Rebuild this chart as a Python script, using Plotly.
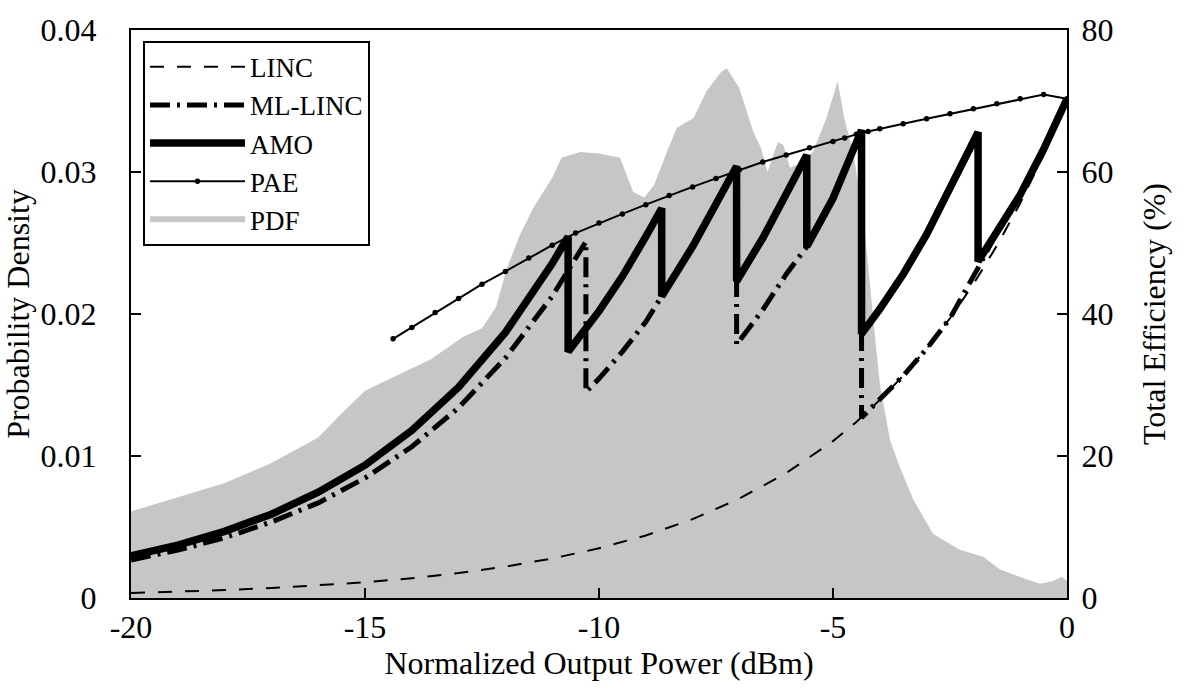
import plotly.graph_objects as go

# ---------------- data ----------------
# PDF (left axis, probability density)
pdf_x = [-20, -19, -18, -17, -16, -15.5, -15, -14.3, -13.6, -12.9, -12.5, -12.2, -11.97,
         -11.7, -11.4, -11.0, -10.8, -10.4, -10.0, -9.55, -9.27, -9.03, -8.82, -8.55, -8.34,
         -7.98, -7.7, -7.4, -7.27, -7.0, -6.7, -6.54, -6.4, -6.18, -6.06, -5.92, -5.7, -5.43,
         -5.14, -4.9, -4.76, -4.57, -4.35, -4.14, -4.0, -3.78, -3.57, -3.28, -2.86, -2.29,
         -1.79, -1.43, -0.94, -0.58, -0.3, -0.11, 0]
pdf_y = [0.0061, 0.0071, 0.0081, 0.0095, 0.0113, 0.0130, 0.0146, 0.0157, 0.0168, 0.0184,
         0.0190, 0.0205, 0.0232, 0.0255, 0.0275, 0.0296, 0.0310, 0.0314, 0.0313, 0.0310,
         0.0286, 0.0282, 0.0291, 0.0314, 0.0331, 0.0338, 0.0357, 0.0370, 0.0373, 0.0359,
         0.0328, 0.0317, 0.0300, 0.0321, 0.0319, 0.0303, 0.0306, 0.0314, 0.0338, 0.0364,
         0.0338, 0.0314, 0.0268, 0.0197, 0.0151, 0.0111, 0.0092, 0.0069, 0.0045, 0.0034,
         0.0029, 0.0020, 0.0014, 0.0010, 0.0012, 0.0015, 0.0012]

# LINC efficiency (%)
linc_x = [-20, -19, -18, -17, -16, -15, -14, -13, -12, -11, -10, -9, -8, -7, -6, -5,
          -4.5, -4, -3.5, -3, -2.5, -2, -1.5, -1, -0.5, 0]
linc_y = [0.70, 0.88, 1.11, 1.40, 1.76, 2.21, 2.79, 3.51, 4.42, 5.56, 7.00, 8.81, 11.1,
          14.0, 17.6, 22.1, 24.8, 27.9, 31.3, 35.1, 39.4, 44.2, 49.6, 55.6, 62.4, 70.0]

# ML-LINC efficiency (%)
ml_x = [-20, -19, -18, -17, -16, -15, -14, -13, -12, -11, -10.28,
        -10.28, -10, -9.5, -9, -8.66,
        -8, -7.5, -7.06,
        -7.06, -6.5, -6, -5.56,
        -5, -4.39,
        -4.39, -4, -3.5, -3, -2.5, -1.9,
        -1.5, -1, -0.5, 0]
ml_y = [5.36, 6.74, 8.49, 10.7, 13.4, 16.9, 21.3, 26.8, 33.8, 42.5, 50.2,
        29.0, 30.9, 34.7, 38.9, 42.5,
        49.5, 55.5, 60.8,
        35.7, 40.6, 45.6, 49.5,
        56.3, 65.9,
        25.4, 27.9, 31.3, 35.1, 39.4, 46.5,
        51.5, 56.8, 63.2, 70.3]

# AMO efficiency (%)
amo_x = [-20, -19, -18, -17, -16, -15, -14, -13, -12, -11, -10.66,
         -10.66, -10, -9.5, -9, -8.66,
         -8.66, -8, -7.5, -7.06,
         -7.06, -6.5, -6, -5.56,
         -5.56, -5, -4.39,
         -4.39, -4, -3.5, -3, -2.5, -1.9,
         -1.9, -1.5, -1, -0.5, 0]
amo_y = [5.93, 7.46, 9.39, 11.8, 14.9, 18.7, 23.6, 29.7, 37.4, 47.1, 50.9,
         34.7, 40.4, 45.3, 50.9, 54.9,
         42.5, 49.5, 55.5, 60.8,
         44.6, 50.7, 56.9, 62.4,
         49.5, 56.3, 65.9,
         37.2, 40.7, 45.6, 51.2, 57.5, 65.6,
         47.4, 51.5, 56.8, 63.2, 70.3]

# PAE (%)
pae_x = [-14.4, -14.0, -13.5, -13.0, -12.5, -12.0, -11.5, -11.0, -10.5, -10.0, -9.5, -9.0,
         -8.5, -8.0, -7.5, -7.0, -6.5, -6.0, -5.5, -5.0, -4.75, -4.5, -4.25, -4.0, -3.5,
         -3.0, -2.5, -2.0, -1.5, -1.0, -0.5, 0.0]
pae_y = [36.5, 38.1, 40.2, 42.2, 44.2, 46.0, 47.9, 49.7, 51.4, 52.8, 54.1, 55.4, 56.7, 57.9,
         59.1, 60.3, 61.4, 62.4, 63.4, 64.3, 64.8, 65.3, 65.7, 66.1, 66.8, 67.5, 68.2, 68.9,
         69.6, 70.3, 70.9, 70.3]

x_ticks = [-20, -15, -10, -5, 0]
x_ticktext = ["-20", "-15", "-10", "-5", "0"]
y_ticks = [0, 0.01, 0.02, 0.03, 0.04]
y_ticktext = ["0", "0.01", "0.02", "0.03", "0.04"]
y2_ticks = [0, 20, 40, 60, 80]
y2_ticktext = ["0", "20", "40", "60", "80"]

FONT = "Liberation Serif"

fig = go.Figure()

fig.add_trace(go.Scatter(x=pdf_x, y=pdf_y, name="PDF", mode="none", fill="tozeroy",
                         fillcolor="rgb(198,198,198)", yaxis="y", legendrank=5))
fig.add_trace(go.Scatter(x=linc_x, y=linc_y, name="LINC", mode="lines", yaxis="y2",
                         line=dict(color="black", width=2, dash="14px,13px"), legendrank=1))
fig.add_trace(go.Scatter(x=ml_x, y=ml_y, name="ML-LINC", mode="lines", yaxis="y2",
                         line=dict(color="black", width=5, dash="20px,7px,3px,7px"), legendrank=2))
fig.add_trace(go.Scatter(x=amo_x, y=amo_y, name="AMO", mode="lines", yaxis="y2",
                         line=dict(color="black", width=7.5), legendrank=3))
fig.add_trace(go.Scatter(x=pae_x, y=pae_y, name="PAE", mode="lines+markers", yaxis="y2",
                         line=dict(color="black", width=2),
                         marker=dict(color="black", size=5.5), legendrank=4))

axis_common = dict(showgrid=False, zeroline=False, showline=True, linecolor="black",
                   linewidth=2, ticks="inside", ticklen=10, tickwidth=1.5, tickcolor="black",
                   tickfont=dict(family=FONT, size=32, color="black"))

fig.update_layout(
    width=1184, height=688,
    margin=dict(l=131, r=117, t=28, b=90),
    paper_bgcolor="white", plot_bgcolor="white",
    font=dict(family=FONT, color="black"),
    xaxis=dict(range=[-20, 0], tickvals=x_ticks, ticktext=x_ticktext, mirror=True,
               ticklabelstandoff=0,
               title=dict(text="Normalized Output Power (dBm)",
                          font=dict(family=FONT, size=32, color="black"), standoff=4),
               **axis_common),
    yaxis=dict(range=[0, 0.04], tickvals=y_ticks, ticktext=y_ticktext, mirror=False,
               ticklabelstandoff=26,
               title=dict(text="Probability Density",
                          font=dict(family=FONT, size=32, color="black"), standoff=2),
               **axis_common),
    yaxis2=dict(range=[0, 80], tickvals=y2_ticks, ticktext=y2_ticktext, overlaying="y",
                side="right", ticklabelstandoff=6,
                title=dict(text="Total Efficiency (%)",
                           font=dict(family=FONT, size=32, color="black"), standoff=30),
                **axis_common),
    legend=dict(x=0.0128, y=0.981, xanchor="left", yanchor="top",
                bgcolor="white", bordercolor="black", borderwidth=2,
                font=dict(family=FONT, size=27, color="black"),
                tracegroupgap=0, itemwidth=95),
    showlegend=True,
)

fig.write_html("out.html")
